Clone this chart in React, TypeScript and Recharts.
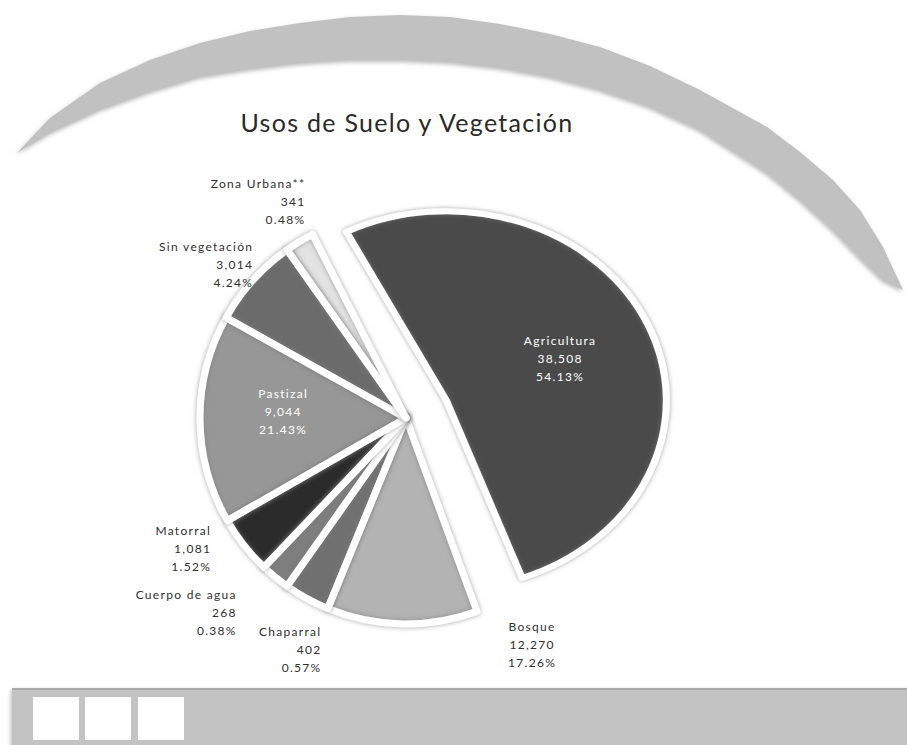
import React from 'react';
import { PieChart, Pie, Cell, Sector } from 'recharts';

// land use categories, clockwise from the exploded slice
const categories = ['Agricultura', 'Bosque', 'Chaparral', 'Cuerpo de agua', 'Matorral', 'Pastizal', 'Sin vegetación', 'Zona Urbana**'];
const areas = ['38,508', '12,270', '402', '268', '1,081', '9,044', '3,014', '341'];
const percents = [54.13, 17.26, 0.57, 0.38, 1.52, 21.43, 4.24, 0.48];
// angular share of each slice as drawn in the picture (does not follow the printed %)
const sliceShare = [51.9, 11.8, 3.6, 2.3, 4.6, 16.4, 7.1, 2.3];

const colors = ['#4a4a4a', '#b3b3b3', '#707070', '#7e7e7e', '#2b2b2b', '#979797', '#6b6b6b', '#e3e3e3'];

// label placement: polar offset from the pie centre (deg, px)
const labelPlacement: { [name: string]: { angle: number; radius: number; anchor: string; inside?: boolean } } = {
  'Agricultura': { angle: 21, radius: 165, anchor: 'middle', inside: true },
  'Bosque': { angle: 299, radius: 260, anchor: 'middle' },
  'Chaparral': { angle: 250, radius: 247, anchor: 'end' },
  'Cuerpo de agua': { angle: 229, radius: 258, anchor: 'end' },
  'Matorral': { angle: 214, radius: 235, anchor: 'end' },
  'Pastizal': { angle: 177, radius: 123, anchor: 'middle', inside: true },
  'Sin vegetación': { angle: 135, radius: 216, anchor: 'end' },
  'Zona Urbana**': { angle: 115, radius: 238, anchor: 'end' },
};

const data = categories.map((name, i) => ({
  name,
  area: areas[i],
  pct: percents[i],
  share: sliceShare[i],
}));

const RAD = Math.PI / 180;

const makeShape = (overlay: boolean) => (props: any) => {
  const name = props.name ?? props.payload?.name;
  const big = name === 'Agricultura';
  const off = big ? 44 : 0;
  const x = props.cx + off * Math.cos(-props.midAngle * RAD);
  const y = props.cy + off * Math.sin(-props.midAngle * RAD);
  const transform = big ? `translate(${x} ${y}) scale(1 0.86) translate(${-x} ${-y})` : undefined;
  return (
    <g transform={transform}>
      <Sector
        {...props}
        cx={x}
        cy={y}
        outerRadius={big ? props.outerRadius + 14 : props.outerRadius}
        fill={overlay ? 'none' : props.fill}
        stroke={overlay ? '#ffffff' : 'none'}
        strokeWidth={overlay ? 7 : 0}
        strokeLinejoin="round"
      />
    </g>
  );
};

const FillShape = makeShape(false);
const EdgeShape = makeShape(true);

const renderLabel = (props: any) => {
  const { cx, cy, index } = props;
  const d = data[index];
  const p = labelPlacement[d.name];
  const x = cx + p.radius * Math.cos(p.angle * RAD);
  const y = cy - p.radius * Math.sin(p.angle * RAD);
  const fill = p.inside ? '#ffffff' : '#2f2f2f';
  const lines = [d.name, d.area, d.pct.toFixed(2) + '%'];
  return (
    <text x={x} y={y - 18} textAnchor={p.anchor} fill={fill} fontSize={12} letterSpacing={1.3} fontFamily="Lato, 'Open Sans', sans-serif">
      {lines.map((l, k) => (
        <tspan key={k} x={x} dy={k === 0 ? 4 : 18}>{l}</tspan>
      ))}
    </text>
  );
};

const outerLid = [[17, 153], [50, 118], [100, 83], [150, 60], [200, 43], [250, 31], [300, 23], [350, 17], [400, 15], [450, 17], [500, 24], [550, 34], [600, 47], [650, 66], [700, 90], [767, 127], [800, 152], [833, 180], [860, 210], [883, 247], [903, 290]];
const innerLid = [[903, 290], [883, 280], [860, 258], [833, 230], [800, 200], [767, 173], [700, 130], [650, 107], [600, 90], [550, 77], [500, 68], [450, 62], [400, 60], [350, 60], [300, 63], [250, 69], [200, 77], [150, 92], [100, 110], [50, 133], [17, 153]];
const lidPath = 'M' + outerLid.concat(innerLid).map((p) => p.join(' ')).join(' L') + ' Z';

export default function App() {
  return (
    <div style={{ position: 'absolute', left: 0, top: 0, width: 907, height: 745, background: '#ffffff', overflow: 'hidden' }}>
      <svg width={907} height={745} style={{ position: 'absolute', left: 0, top: 0 }}>
        <defs>
          <filter id="lidShadow" x="-5%" y="-20%" width="110%" height="140%">
            <feGaussianBlur in="SourceAlpha" stdDeviation="2" />
            <feOffset dx="-1" dy="2" result="b" />
            <feFlood floodColor="#888888" floodOpacity="0.6" />
            <feComposite in2="b" operator="in" />
            <feMerge>
              <feMergeNode />
              <feMergeNode in="SourceGraphic" />
            </feMerge>
          </filter>
        </defs>
        <path d={lidPath} fill="#c1c1c1" filter="url(#lidShadow)" />
        <text x={407} y={132} textAnchor="middle" fontSize={25} letterSpacing={1.3} fill="#2a2a2a" fontFamily="Lato, 'Open Sans', sans-serif">
          Usos de Suelo y Vegetación
        </text>
        <rect x={12} y={688} width={900} height={60} fill="#c3c3c3" filter="url(#lidShadow)" />
        <line x1={12} y1={689} x2={907} y2={689} stroke="#a9a9a9" strokeWidth={2} />
        <rect x={33} y={697} width={46} height={43} fill="#ffffff" />
        <rect x={85} y={697} width={46} height={43} fill="#ffffff" />
        <rect x={138} y={697} width={46} height={43} fill="#ffffff" />
      </svg>
      <div style={{ position: 'absolute', left: 0, top: 0 }}>
        <PieChart width={907} height={680}>
          <defs>
            <filter id="edgeGlow" x="-20%" y="-20%" width="140%" height="140%">
              <feGaussianBlur in="SourceAlpha" stdDeviation="2.6" result="blur" />
              <feFlood floodColor="#7a7a7a" floodOpacity="0.7" />
              <feComposite in2="blur" operator="in" />
              <feMerge>
                <feMergeNode />
                <feMergeNode in="SourceGraphic" />
              </feMerge>
            </filter>
          </defs>
          <Pie
            data={data}
            dataKey="share"
            nameKey="name"
            cx={401}
            cy={413}
            outerRadius={206}
            startAngle={117}
            endAngle={-243}
            isAnimationActive={false}
            shape={FillShape}
            stroke="none"
            label={renderLabel}
            labelLine={false}
          >
            {data.map((d, i) => (
              <Cell key={d.name} fill={colors[i]} />
            ))}
          </Pie>
          <Pie
            data={data}
            dataKey="share"
            nameKey="name"
            cx={401}
            cy={413}
            outerRadius={206}
            startAngle={117}
            endAngle={-243}
            isAnimationActive={false}
            shape={EdgeShape}
            filter="url(#edgeGlow)"
            label={false}
            labelLine={false}
          >
            {data.map((d) => (
              <Cell key={d.name} fill="none" />
            ))}
          </Pie>
        </PieChart>
      </div>
    </div>
  );
}
